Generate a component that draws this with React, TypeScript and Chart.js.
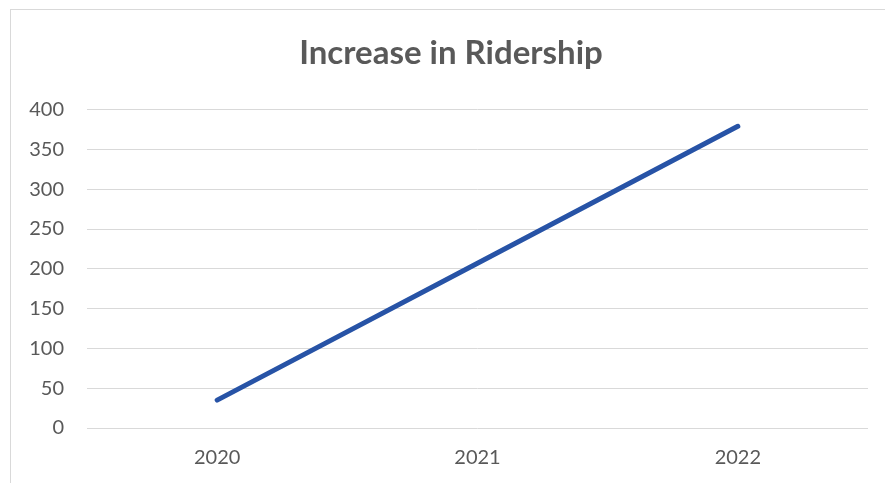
import React, { useEffect, useRef } from "react";
import { Chart, registerables } from "chart.js";

Chart.register(...registerables);

const categories = ["2020", "2021", "2022"];
const ridership = [35, 207, 379];
const yTicks = [0, 50, 100, 150, 200, 250, 300, 350, 400];
const titleText = "Increase in Ridership";

export default function App() {
  const ref = useRef<HTMLCanvasElement | null>(null);

  useEffect(() => {
    if (!ref.current) return;
    const chart = new Chart(ref.current, {
      type: "line",
      data: {
        labels: categories,
        datasets: [
          {
            label: "Ridership",
            data: ridership,
            borderColor: "#2753a6",
            backgroundColor: "#2753a6",
            borderWidth: 5,
            borderCapStyle: "round",
            pointRadius: 0,
            tension: 0,
          },
        ],
      },
      options: {
        animation: false,
        responsive: false,
        maintainAspectRatio: false,
        layout: { padding: { top: 0, right: 0, bottom: 0, left: 17 } },
        plugins: {
          legend: { display: false },
          tooltip: { enabled: false },
          title: {
            display: true,
            text: titleText,
            color: "#595959",
            font: { family: "Lato", size: 33, weight: "bold", lineHeight: 1.2 },
            padding: { top: 34, bottom: 36 },
          },
        },
        scales: {
          x: {
            offset: true,
            grid: { display: false, drawTicks: false },
            border: { display: false },
            ticks: {
              color: "#595959",
              font: { family: "Lato", size: 20 },
              padding: 18,
            },
            afterFit: (scale: any) => {
              scale.height = 55;
            },
          },
          y: {
            min: 0,
            max: 400,
            afterBuildTicks: (scale: any) => {
              scale.ticks = yTicks.map((v) => ({ value: v }));
            },
            grid: { color: "#d9d9d9", lineWidth: 1, drawTicks: false },
            border: { display: false },
            ticks: {
              color: "#595959",
              font: { family: "Lato", size: 20 },
              padding: 23,
            },
            afterFit: (scale: any) => {
              scale.width = 70;
            },
          },
          yRight: {
            position: "right",
            display: true,
            min: 0,
            max: 400,
            grid: { display: false, drawTicks: false },
            border: { display: false },
            ticks: { display: false },
            afterFit: (scale: any) => {
              scale.width = 17;
            },
          },
        },
      },
    });
    return () => chart.destroy();
  }, []);

  return (
    <div style={{ position: "absolute", left: 0, top: 0, width: 885, height: 483, background: "#fff" }}>
      <div
        style={{
          position: "absolute",
          left: 10,
          top: 9,
          width: 885,
          height: 483,
          borderTop: "1.5px solid #d9d9d9",
          borderLeft: "1.5px solid #d9d9d9",
          boxSizing: "border-box",
        }}
      />
      <canvas ref={ref} width={885} height={483} style={{ position: "absolute", left: 0, top: 0 }} />
    </div>
  );
}
